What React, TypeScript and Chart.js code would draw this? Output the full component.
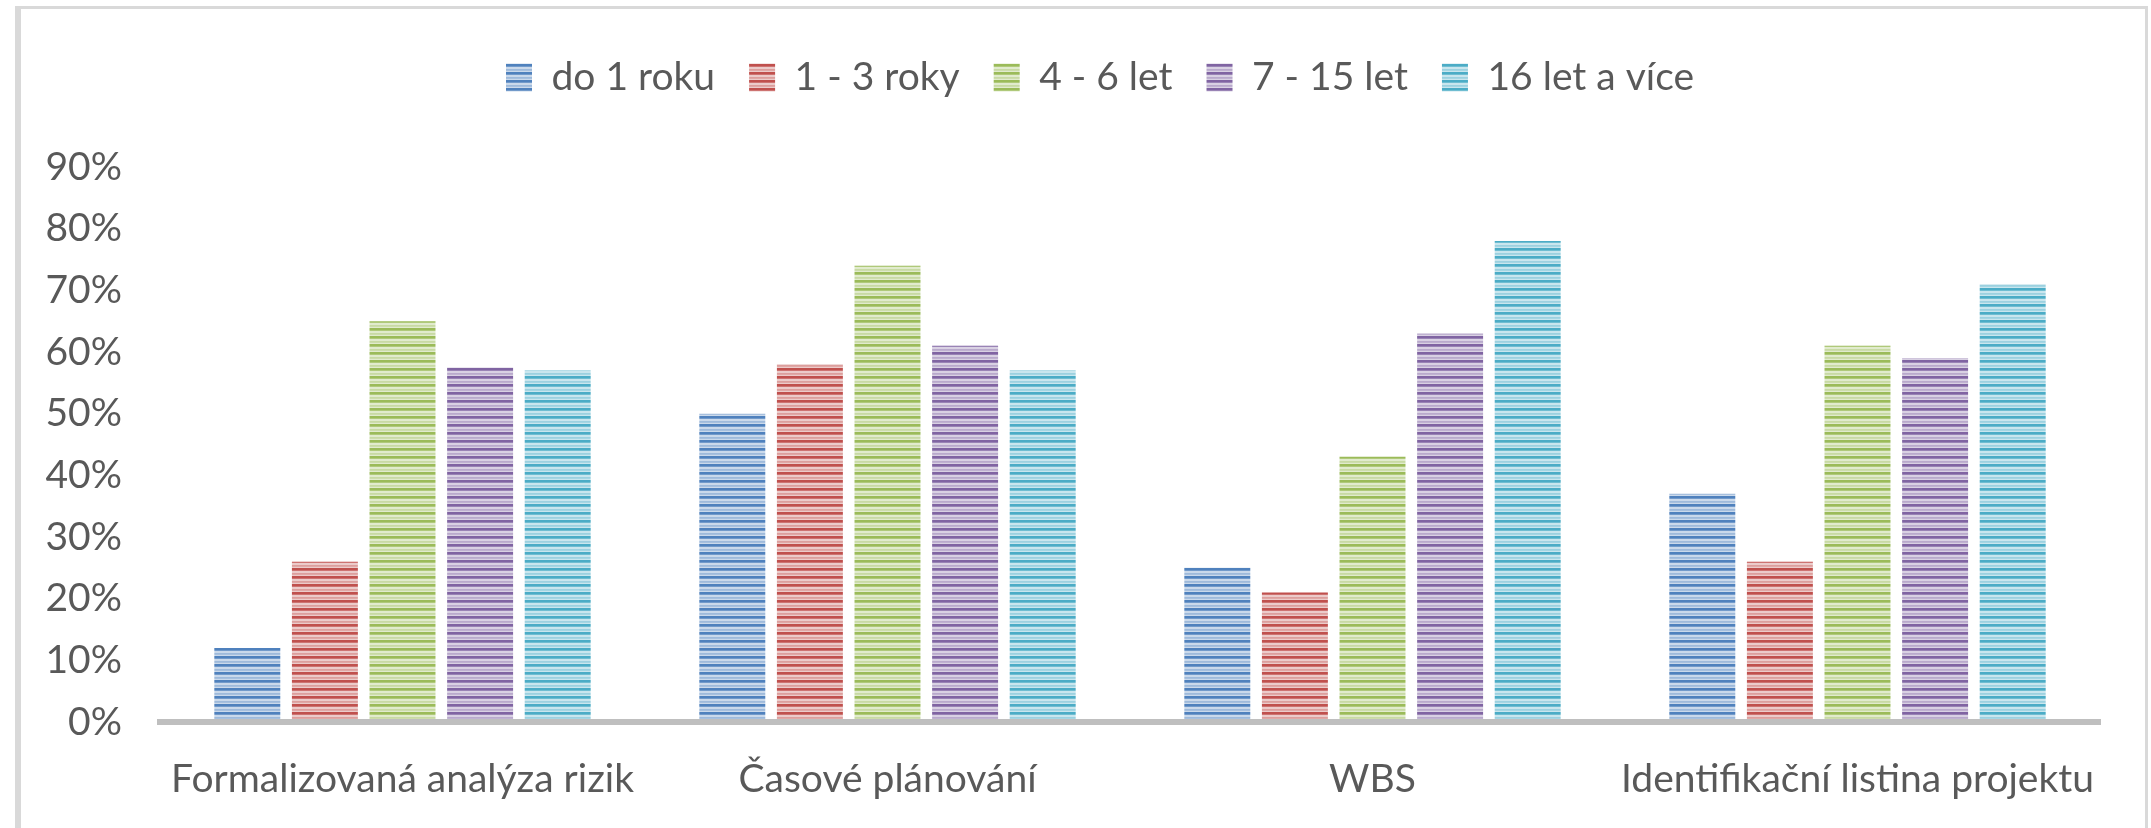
import React, { useEffect, useRef } from "react";
import { Chart, registerables } from "chart.js";

Chart.register(...registerables);

const categories = [
  "Formalizovaná analýza rizik",
  "Časové plánování",
  "WBS",
  "Identifikační listina projektu",
];
const seriesLabels = ["do 1 roku", "1 - 3 roky", "4 - 6 let", "7 - 15 let", "16 let a více"];
const do1Roku = [12, 50, 25, 37];
const roky1az3 = [26, 58, 21, 26];
const let4az6 = [65, 74, 43, 61];
const let7az15 = [57.5, 61, 63, 59];
const let16aVice = [57, 57, 78, 71];
const yTickLabels = ["0%", "10%", "20%", "30%", "40%", "50%", "60%", "70%", "80%", "90%"];
const seriesColors = ["#4F81BD", "#C0504D", "#9BBB59", "#8064A2", "#4BACC6"];

const FONT = "Lato, 'Open Sans', sans-serif";
const FONT_SIZE = 39;
const TEXT_COLOR = "#595959";

function stripePattern(ctx: CanvasRenderingContext2D, hex: string) {
  const r = parseInt(hex.slice(1, 3), 16);
  const g = parseInt(hex.slice(3, 5), 16);
  const b = parseInt(hex.slice(5, 7), 16);
  const tile = document.createElement("canvas");
  tile.width = 8;
  tile.height = 8;
  const t = tile.getContext("2d")!;
  const levels = [1, 1, 0.8, 0.3, 0.3, 0.55, 0.5, 0.3];
  levels.forEach((a, i) => {
    const mix = (c: number) => Math.round(255 + (c - 255) * a);
    t.fillStyle = `rgb(${mix(r)},${mix(g)},${mix(b)})`;
    t.fillRect(0, i, 8, 1);
  });
  return ctx.createPattern(tile, "repeat")!;
}

const framePlugin = {
  id: "frame",
  afterLayout(chart: any) {
    if (chart.legend) {
      chart.legend.left += 40;
      chart.legend.right += 40;
    }
  },
  beforeDraw(chart: Chart) {
    const c = chart.ctx;
    c.save();
    c.fillStyle = "#ffffff";
    c.fillRect(0, 0, chart.width, chart.height);
    c.fillStyle = "#d9d9d9";
    c.fillRect(15, 6, 6, chart.height - 6);
    c.fillRect(15, 6, 2133, 3);
    c.fillRect(2145, 6, 3, chart.height - 6);
    c.restore();
  },
};

export default function App() {
  const ref = useRef<HTMLCanvasElement | null>(null);
  useEffect(() => {
    document.body.style.margin = "0";
    const canvas = ref.current!;
    const ctx = canvas.getContext("2d")!;
    Chart.defaults.font.family = FONT;
    Chart.defaults.font.size = FONT_SIZE;
    Chart.defaults.color = TEXT_COLOR;
    const seriesValues = [do1Roku, roky1az3, let4az6, let7az15, let16aVice];
    const chart = new Chart(ctx, {
      type: "bar",
      data: {
        labels: categories,
        datasets: seriesValues.map((vals, i) => ({
          label: seriesLabels[i],
          data: vals,
          backgroundColor: stripePattern(ctx, seriesColors[i]),
          borderWidth: 0,
          categoryPercentage: 0.8,
          barPercentage: 0.85,
        })),
      },
      options: {
        responsive: false,
        animation: false,
        maintainAspectRatio: false,
        layout: { padding: { top: 24, left: 20, right: 51, bottom: 0 } },
        plugins: {
          legend: {
            position: "top",
            labels: {
              boxWidth: 26,
              boxHeight: 28,
              padding: 34,
              color: TEXT_COLOR,
              font: { size: FONT_SIZE, family: FONT },
            },
          },
          subtitle: {
            display: true,
            text: "",
            position: "top",
            weight: 100,
            font: { size: 10 },
            padding: { top: 0, bottom: 48 },
          },
          tooltip: { enabled: false },
        },
        scales: {
          x: {
            grid: { display: false, drawTicks: false },
            border: { display: true, color: "#bfbfbf", width: 6, z: 1 },
            ticks: {
              padding: 34,
              maxRotation: 0,
              minRotation: 0,
              autoSkip: false,
              color: TEXT_COLOR,
              font: { size: FONT_SIZE, family: FONT },
            },
            afterFit: (scale: any) => {
              scale.height = 106;
            },
          },
          y: {
            min: 0,
            max: 90,
            grid: { display: false, drawTicks: false },
            border: { display: false },
            ticks: {
              stepSize: 10,
              padding: 38,
              color: TEXT_COLOR,
              font: { size: FONT_SIZE, family: FONT },
              callback: (_v: any, i: number) => yTickLabels[i],
            },
            afterFit: (scale: any) => {
              scale.width = 140;
            },
          },
        },
      },
      plugins: [framePlugin],
    });
    return () => chart.destroy();
  }, []);
  return (
    <canvas
      ref={ref}
      width={2151}
      height={828}
      style={{ display: "block", width: 2151, height: 828 }}
    />
  );
}
